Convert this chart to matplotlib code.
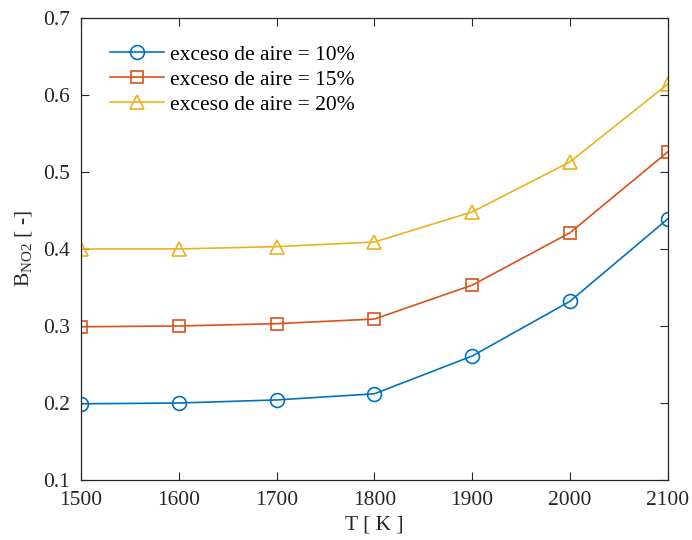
import matplotlib
matplotlib.use("Agg")
import matplotlib.pyplot as plt

T = [1500, 1600, 1700, 1800, 1900, 2000, 2100]
b10 = [0.199, 0.200, 0.204, 0.212, 0.261, 0.332, 0.439]
b15 = [0.299, 0.300, 0.303, 0.309, 0.353, 0.421, 0.526]
b20 = [0.400, 0.400, 0.403, 0.409, 0.448, 0.513, 0.614]
labels = ["exceso de aire = 10%", "exceso de aire = 15%", "exceso de aire = 20%"]
xticks = [1500, 1600, 1700, 1800, 1900, 2000, 2100]
yticks = [0.1, 0.2, 0.3, 0.4, 0.5, 0.6, 0.7]

plt.rcParams['font.family'] = ['Liberation Serif', 'DejaVu Serif']
plt.rcParams['mathtext.fontset'] = 'custom'
plt.rcParams['mathtext.rm'] = 'Liberation Serif'
plt.rcParams['font.size'] = 15.5

fs = 15.5
fig = plt.figure(figsize=(6.92, 5.40), dpi=100)
ax = fig.add_axes([0.117, 0.111, 0.848, 0.856])

colors = ['#0072BD', '#D95319', '#EDB120']
markers = ['o', 's', '^']
for y, c, m, lab in zip([b10, b15, b20], colors, markers, labels):
    ax.plot(T, y, color=c, marker=m, markersize=10 if m != 's' else 8.5,
            markerfacecolor='none', markeredgewidth=1.2, linewidth=1.2, label=lab)

ax.set_xlim(1500, 2100)
ax.set_ylim(0.1, 0.7)
ax.set_xticks(xticks)
ax.set_yticks(yticks)
ax.set_yticklabels([f"{v:.1f}" for v in yticks])
ax.tick_params(axis='both', direction='in', top=True, right=True, length=6, width=0.8,
               colors='#262626', labelcolor='#262626', labelsize=fs)
ax.tick_params(axis='x', pad=8)
ax.tick_params(axis='y', pad=8)
for s in ax.spines.values():
    s.set_color('#262626')
    s.set_linewidth(0.9)

ax.set_xlabel('T [ K ]', color='#262626', fontsize=fs, labelpad=4)
ax.set_ylabel(r'B$_{\mathrm{NO2}}$ [ -]', color='#262626', fontsize=fs, labelpad=6)

leg = ax.legend(loc='upper left', frameon=False, fontsize=fs, handlelength=2.5,
                borderaxespad=0.0, labelspacing=0.22, handletextpad=0.3,
                bbox_to_anchor=(0.035, 0.96))

fig.savefig('out.png', dpi=100)
